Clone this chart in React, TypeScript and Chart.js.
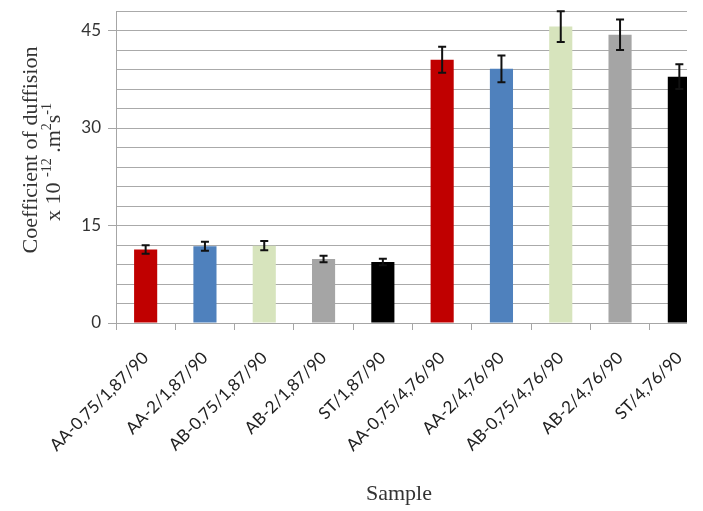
import React, { useEffect, useRef } from 'react';
import { Chart, registerables } from 'chart.js';

Chart.register(...registerables);

const categories = [
  'AA-0,75/1,87/90',
  'AA-2/1,87/90',
  'AB-0,75/1,87/90',
  'AB-2/1,87/90',
  'ST/1,87/90',
  'AA-0,75/4,76/90',
  'AA-2/4,76/90',
  'AB-0,75/4,76/90',
  'AB-2/4,76/90',
  'ST/4,76/90',
];
const values = [11.3, 11.8, 11.9, 9.85, 9.4, 40.5, 39.1, 45.6, 44.35, 37.9];
const errors = [0.65, 0.7, 0.7, 0.5, 0.5, 2.0, 2.05, 2.35, 2.35, 1.9];
const barColors = [
  '#C00000', '#4F81BD', '#D7E4BD', '#A5A5A5', '#000000',
  '#C00000', '#4F81BD', '#D7E4BD', '#A5A5A5', '#000000',
];
const yMin = 0;
const yMax = 48;
const yGridStep = 3;
const yLabelStep = 15;

const yTitleLine1 = 'Coefficient of duffision';
const yTitleLine2: [string, boolean][] = [
  ['x 10 ', false],
  ['-12', true],
  [' .m', false],
  ['2', true],
  ['s', false],
  ['-1', true],
];
const xTitle = 'Sample';

const SERIF = '"Liberation Serif", "Times New Roman", serif';
const SANS = 'Lato, "Open Sans", sans-serif';

const errorBarPlugin = {
  id: 'errorBars',
  afterDatasetsDraw(chart: any) {
    const ctx = chart.ctx;
    const meta = chart.getDatasetMeta(0);
    const ys = chart.scales.y;
    ctx.save();
    ctx.strokeStyle = '#111';
    ctx.lineWidth = 2;
    meta.data.forEach((el: any, i: number) => {
      const x = el.x;
      const top = ys.getPixelForValue(values[i] + errors[i]);
      const bot = ys.getPixelForValue(values[i] - errors[i]);
      const cap = 4;
      ctx.beginPath();
      ctx.moveTo(x, top);
      ctx.lineTo(x, bot);
      ctx.moveTo(x - cap, top);
      ctx.lineTo(x + cap, top);
      ctx.moveTo(x - cap, bot);
      ctx.lineTo(x + cap, bot);
      ctx.stroke();
    });
    ctx.restore();
  },
};

const titlesPlugin = {
  id: 'titles',
  afterDraw(chart: any) {
    const ctx = chart.ctx;
    const area = chart.chartArea;
    const midY = (area.top + area.bottom) / 2;
    ctx.save();
    ctx.fillStyle = '#333';
    ctx.textBaseline = 'alphabetic';
    ctx.textAlign = 'left';
    // line 1
    ctx.save();
    ctx.font = `22px ${SERIF}`;
    ctx.translate(29, midY - 17);
    ctx.rotate(-Math.PI / 2);
    const w1 = ctx.measureText(yTitleLine1).width;
    ctx.fillText(yTitleLine1, -w1 / 2, 0);
    ctx.restore();
    // line 2 with superscripts
    ctx.save();
    ctx.translate(52, midY - 5);
    ctx.rotate(-Math.PI / 2);
    const normalFont = `22px ${SERIF}`;
    const supFont = `14px ${SERIF}`;
    let total = 0;
    yTitleLine2.forEach(([t, sup]) => {
      ctx.font = sup ? supFont : normalFont;
      total += ctx.measureText(t).width;
    });
    let x = -total / 2;
    yTitleLine2.forEach(([t, sup]) => {
      ctx.font = sup ? supFont : normalFont;
      ctx.fillText(t, x, sup ? -9 : 0);
      x += ctx.measureText(t).width;
    });
    ctx.restore();
    // x title
    ctx.font = `22px ${SERIF}`;
    ctx.textAlign = 'center';
    ctx.fillText(xTitle, area.left + 283, 492);
    ctx.restore();
  },
};

export default function App() {
  const ref = useRef<HTMLCanvasElement>(null);
  useEffect(() => {
    if (!ref.current) return;
    const chart = new Chart(ref.current, {
      type: 'bar',
      data: {
        labels: categories,
        datasets: [
          {
            data: values,
            backgroundColor: barColors,
            borderWidth: 0,
            categoryPercentage: 1,
            barPercentage: 0.39,
          },
        ],
      },
      options: {
        animation: false,
        responsive: false,
        layout: { padding: { top: 3, right: 0, bottom: 0, left: 0 } },
        plugins: {
          legend: { display: false },
          tooltip: { enabled: false },
        },
        scales: {
          x: {
            offset: true,
            grid: {
              display: true,
              offset: true,
              drawOnChartArea: false,
              drawTicks: true,
              tickLength: 7,
              color: '#a6a6a6',
            },
            border: { color: '#a6a6a6', width: 1 },
            ticks: {
              autoSkip: false,
              maxRotation: 45,
              minRotation: 45,
              padding: 18,
              color: '#222',
              font: { family: SANS, size: 17 },
            },
            afterFit: (s: any) => {
              s.height = 185;
              s.paddingLeft = 0;
              s.paddingRight = 0;
            },
          },
          y: {
            min: yMin,
            max: yMax,
            grid: {
              color: '#aaaaaa',
              lineWidth: 1,
              tickLength: 8,
              tickColor: (c: any) =>
                c.tick && c.tick.value % yLabelStep === 0 ? '#a6a6a6' : 'rgba(0,0,0,0)',
            },
            border: { color: '#a6a6a6', width: 1 },
            ticks: {
              stepSize: yGridStep,
              autoSkip: false,
              padding: 7,
              color: '#333',
              font: { family: SANS, size: 17 },
              callback: (v: any) => (Number(v) % yLabelStep === 0 ? String(v) : ''),
            },
            afterFit: (s: any) => {
              s.width = 108;
              s.paddingTop = 0;
              s.paddingBottom = 0;
            },
          },
        },
      },
      plugins: [errorBarPlugin, titlesPlugin],
    });
    return () => chart.destroy();
  }, []);
  return (
    <div style={{ width: 679, height: 500, overflow: 'hidden' }}>
      <canvas ref={ref} width={701} height={500} style={{ display: 'block' }} />
    </div>
  );
}
